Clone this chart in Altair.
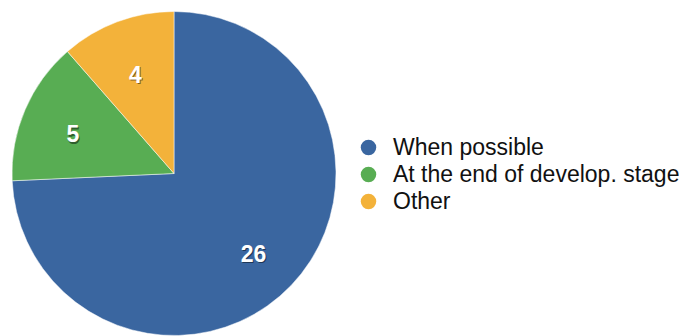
import altair as alt
import pandas as pd

categories = ["When possible", "At the end of develop. stage", "Other"]
values = [26, 5, 4]
colors = ["#3a66a0", "#58ad53", "#f3b23a"]

df = pd.DataFrame({"category": categories, "value": values, "order": [0, 1, 2]})

CX, CY, R = 174, 173.5, 162

base = alt.Chart(df).encode(
    theta=alt.Theta("value:Q", stack=True),
    order=alt.Order("order:Q"),
)

pie = base.mark_arc(stroke="#ffffff", strokeWidth=0.5).encode(
    x=alt.value(CX), y=alt.value(CY),
    color=alt.Color(
        "category:N",
        scale=alt.Scale(domain=categories, range=colors),
        sort=categories,
        legend=alt.Legend(
            title=None, orient="none", legendX=357, legendY=136,
            symbolType="circle", symbolSize=240, symbolStrokeWidth=0,
            labelFont="Liberation Sans", labelFontSize=23, labelColor="#111111",
            labelOffset=13, rowPadding=3, labelLimit=400,
        ),
    ),
    radius=alt.value(R),
)

shadow = base.mark_text(
    radius=110, font="Liberation Sans", fontSize=23, fontWeight="bold",
    color="#000000", opacity=0.45, dx=1, dy=6.5,
).encode(x=alt.value(CX), y=alt.value(CY), text="value:Q")

labels = base.mark_text(
    radius=110, font="Liberation Sans", fontSize=23, fontWeight="bold", color="#ffffff",
    dy=5,
).encode(x=alt.value(CX), y=alt.value(CY), text="value:Q")

chart = alt.layer(pie, shadow, labels).properties(
    width=679, height=336, padding=0, autosize=alt.AutoSizeParams(type="none"),
).configure_view(stroke=None)

chart.save("out.html", embed_options={"renderer": "svg", "actions": False})
